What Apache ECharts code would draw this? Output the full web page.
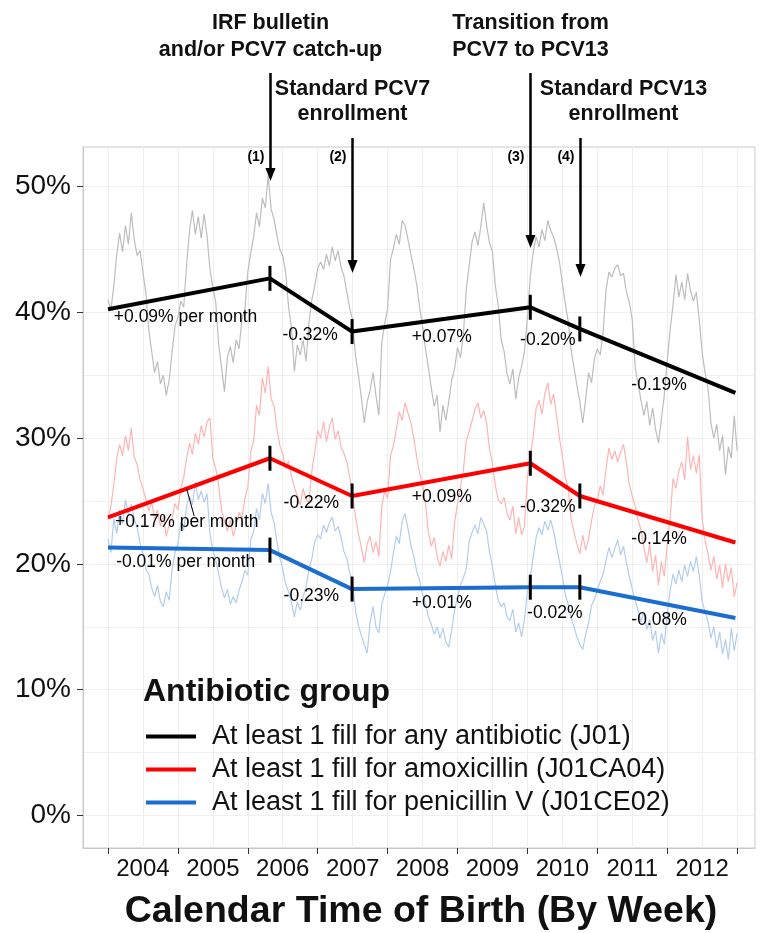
<!DOCTYPE html>
<html><head><meta charset="utf-8">
<script src="https://cdn.jsdelivr.net/npm/echarts@6/dist/echarts.min.js"></script>
<style>html,body{margin:0;padding:0;background:#fff}#c{width:760px;height:933px}</style>
</head><body><div id="c"></div>
<script>
// ---------- data ----------
const yearLabels = ['2004','2005','2006','2007','2008','2009','2010','2011','2012'];
const yearStartMonths = [0,12,24,36,48,60,72,84,96,108];
const yearMidMonths = [6,18,30,42,54,66,78,90,102];
const halfMonthGrid = [0,6,12,18,24,30,36,42,48,54,60,66,72,78,84,90,96,102,108];
const yTickValues = [0,10,20,30,40,50];
const yGridValues = [0,5,10,15,20,25,30,35,40,45,50];
const sampleStep = 0.5; // months between samples of the weekly series

// weekly share (%), read at half-month resolution, Jan 2004 -> Dec 2012
const anyAntibiotic = [41.0,40.2,42.1,44.6,46.3,44.8,46.9,45.4,47.9,45.8,
44.5,44.9,43.2,41.5,38.6,36.9,35.2,36.1,34.3,35.0,
33.4,34.6,36.8,38.9,39.6,40.9,40.4,43.8,46.5,48.1,
46.2,47.6,45.9,47.8,46.1,43.4,42.0,40.8,37.4,35.6,
33.7,36.4,37.3,36.0,37.8,37.1,39.5,40.2,43.2,44.7,
46.0,47.9,46.8,49.1,48.3,50.9,48.2,47.4,46.1,45.0,
44.5,43.2,40.4,38.8,35.3,37.4,36.6,37.8,36.1,39.2,
41.0,42.1,43.5,44.0,43.4,44.6,43.7,45.2,44.1,44.9,
43.6,42.9,41.6,40.3,39.4,36.5,35.0,33.2,31.2,32.9,
33.8,35.2,33.4,31.8,37.6,39.1,40.3,44.2,45.1,46.2,
45.4,47.3,46.9,45.8,44.6,43.5,42.2,40.4,38.9,37.1,
35.6,34.0,32.5,33.4,30.5,32.6,31.4,32.9,34.6,35.5,
37.2,36.4,38.2,41.8,43.7,45.6,46.4,45.3,46.8,48.7,
46.9,45.5,44.8,42.1,40.5,37.8,36.9,35.1,34.3,35.5,
33.1,34.8,35.7,36.9,39.6,42.9,44.8,46.0,45.2,46.6,
45.7,47.3,46.5,46.0,45.1,44.0,42.3,40.7,39.3,37.0,
35.6,34.2,32.9,31.2,33.1,35.2,34.4,36.3,37.1,36.6,
38.4,41.8,43.2,42.8,43.5,43.8,42.9,43.1,41.6,40.8,
39.4,35.6,34.3,33.0,31.8,32.9,31.0,32.4,30.7,29.6,
31.5,33.4,36.1,38.6,40.6,43.0,41.2,42.4,41.0,43.1,
41.7,40.9,41.6,39.4,36.8,35.2,34.0,31.2,30.0,31.1,
29.0,30.2,27.1,29.3,28.4,31.8,29.0];

const amoxicillin = [23.5,24.6,26.3,28.4,29.5,28.6,30.2,29.0,30.8,28.5,
27.9,26.7,26.0,25.1,24.2,24.9,23.6,24.3,23.0,23.8,
22.2,23.1,23.6,24.8,24.3,26.0,26.9,28.4,29.6,28.7,
30.4,29.5,31.0,30.1,31.3,31.6,28.4,27.6,26.2,24.3,
23.4,22.6,23.5,22.2,23.0,24.1,23.6,25.2,26.1,28.9,
29.8,32.6,31.8,34.8,33.6,35.7,33.1,32.6,30.8,29.4,
28.7,27.6,28.2,27.0,26.1,25.4,24.7,26.0,25.1,24.9,
27.4,28.9,30.6,30.0,31.3,29.7,30.9,31.6,29.9,30.6,
29.3,28.8,28.1,26.9,25.5,23.7,22.4,21.3,20.1,21.6,
22.2,20.9,21.8,20.6,24.6,25.8,25.2,28.6,29.4,30.7,
32.1,31.4,32.8,32.0,31.2,30.0,28.5,27.2,26.3,24.9,
22.5,21.4,22.1,20.6,19.8,21.0,20.2,21.5,20.4,23.3,
24.8,26.1,27.4,29.8,30.5,31.4,32.3,32.8,31.6,32.2,
31.2,29.1,28.0,26.2,25.1,24.8,25.3,24.0,23.5,24.6,
22.4,23.7,22.3,23.0,26.9,28.6,30.1,32.4,33.0,31.9,
33.6,34.4,32.7,33.5,31.8,30.0,28.6,26.9,26.1,23.6,
22.5,21.6,20.8,22.3,21.1,22.0,23.4,24.6,25.0,26.2,
25.5,27.6,29.2,28.3,29.0,28.1,28.9,29.5,28.0,26.3,
25.4,24.6,23.5,22.7,21.3,20.1,21.6,19.4,20.7,18.3,
20.2,19.0,21.5,23.6,26.8,26.0,27.4,28.1,26.7,30.1,
27.5,28.6,27.2,28.7,23.6,21.9,20.8,19.5,20.6,18.8,
19.9,18.1,20.0,18.6,19.7,17.4,18.5];

const penicillinV = [22.0,20.9,23.6,22.4,24.3,23.2,25.1,23.9,24.8,23.6,
22.9,21.7,20.8,19.6,19.2,18.1,17.4,18.3,17.0,16.6,
17.8,17.1,19.5,20.9,21.6,23.3,22.7,24.6,25.4,24.7,
26.5,25.1,25.8,24.9,25.6,22.4,21.1,20.3,19.2,18.1,
17.3,18.0,16.8,17.4,16.9,17.9,18.6,19.5,19.1,21.9,
22.6,24.4,23.5,25.6,24.8,26.4,24.1,23.3,21.8,20.5,
19.6,18.4,17.8,16.9,15.8,17.0,16.3,17.4,18.2,19.6,
20.4,21.8,22.3,22.0,23.1,22.5,23.3,23.7,22.6,23.0,
22.1,21.0,20.4,19.3,18.5,16.2,15.1,14.3,13.6,12.9,
15.4,16.6,15.0,14.5,16.8,17.6,18.3,19.4,20.9,22.2,
21.6,23.4,24.0,22.8,21.5,20.6,19.4,18.7,17.6,16.9,
15.8,15.2,14.4,15.0,14.1,14.9,13.8,13.4,14.7,16.3,
17.4,18.3,18.9,19.6,21.8,22.5,23.1,22.4,23.7,23.2,
22.6,20.9,19.8,18.3,17.1,16.6,16.9,15.8,15.5,16.4,
14.6,15.3,14.2,15.6,17.8,19.0,20.6,22.1,22.9,22.3,
23.4,22.7,23.5,22.6,21.4,20.2,19.0,17.6,16.8,15.7,
15.0,14.2,13.6,13.2,14.4,15.3,16.7,17.2,17.9,18.6,
19.2,20.3,21.3,20.5,21.2,21.9,20.7,21.4,20.1,19.0,
18.0,17.1,16.3,15.4,16.2,14.8,15.6,13.9,14.7,12.9,
14.5,13.6,16.0,17.9,19.2,18.4,19.5,18.6,19.9,19.0,
20.2,19.4,20.6,19.1,17.0,16.2,15.4,14.1,15.0,13.3,
14.6,12.8,14.0,12.4,14.9,13.1,14.5];

// segmented regression: breakpoints (months since Jan 2004) and fitted values (%)
const breakMonths = [0, 27.8, 41.9, 72.5, 81.0, 107.7];
const trendAny  = [40.25, 42.7, 38.47, 40.4, 38.68, 33.6];
const trendAmox = [23.7, 28.4, 25.4, 28.0, 25.4, 21.7];
const trendPen  = [21.3, 21.1, 18.0, 18.15, 18.15, 15.7];

const seriesNames = ['At least 1 fill for any antibiotic (J01)',
                     'At least 1 fill for amoxicillin (J01CA04)',
                     'At least 1 fill for penicillin V (J01CE02)'];

const slopeAny  = ['+0.09% per month','-0.32%','+0.07%','-0.20%','-0.19%'];
const slopeAmox = ['+0.17% per month','-0.22%','+0.09%','-0.32%','-0.14%'];
const slopePen  = ['-0.01% per month','-0.23%','+0.01%','-0.02%','-0.08%'];

const eventNums = ['(1)','(2)','(3)','(4)'];
const eventTexts = [['IRF bulletin','and/or PCV7 catch-up'],
                    ['Standard PCV7','enrollment'],
                    ['Transition from','PCV7 to PCV13'],
                    ['Standard PCV13','enrollment']];

// ---------- layout (annotation placement, not data) ----------
const FONT = '"Liberation Sans", Arial, Helvetica, sans-serif';
const slopePosAny  = [[1.0,39.6],[34.7,38.2],[57.3,38.0],[75.5,37.8],[94.6,34.2]];
const slopePosAmox = [[1.2,23.3],[34.9,24.85],[57.3,25.3],[75.5,24.5],[94.6,22.0]];
const slopePosPen  = [[1.4,20.1],[34.9,17.4],[57.3,16.9],[76.7,16.1],[94.6,15.55]];
const leader = [[13.5,25.98],[14.8,23.8]];

const toXY = arr => arr.map((v,i)=>[i*sampleStep, v]);
const trendXY = arr => arr.map((v,i)=>[breakMonths[i], v]);
const innerBreaks = arr => arr.slice(1,5).map((v,i)=>[breakMonths[i+1], v]);

function labelItems(texts, pos){
  return texts.map((t,i)=>({value:[pos[i][0],pos[i][1]], name:t,
    label:{align: i===0 ? 'left' : 'center'}}));
}

const chart = echarts.init(document.getElementById('c'), null, {renderer:'canvas'});

const option = {
  animation:false,
  backgroundColor:'#fff',
  textStyle:{fontFamily:FONT},
  grid:{left:83, right:5, top:147, bottom:85, show:true, borderColor:'#c9c9c9', borderWidth:1, containLabel:false},
  xAxis:[{
    type:'value', min:-4.29, max:111.07, position:'bottom',
    axisLine:{show:true, onZero:false, lineStyle:{color:'#c9c9c9', width:1}},
    axisTick:{show:true, customValues:yearStartMonths, length:6, lineStyle:{color:'#333', width:1}},
    axisLabel:{show:true, customValues:yearMidMonths, fontSize:24, color:'#111', margin:9, fontFamily:FONT,
      formatter:v=>yearLabels[yearMidMonths.indexOf(v)]},
    splitLine:{show:false}
  },{
    type:'value', min:-4.29, max:111.07, position:'bottom',
    axisLine:{show:false}, axisLabel:{show:false},
    axisTick:{show:false, customValues:halfMonthGrid},
    splitLine:{show:true, lineStyle:{color:'#efefef', width:1}}
  }],
  yAxis:[{
    type:'value', min:-2.58, max:53.14,
    axisLine:{show:true, onZero:false, lineStyle:{color:'#c9c9c9', width:1}},
    axisTick:{show:true, customValues:yTickValues, length:6, lineStyle:{color:'#333', width:1}},
    axisLabel:{show:true, customValues:yTickValues, fontSize:28, color:'#111', margin:12, fontFamily:FONT,
      formatter:v=>v+'%'},
    splitLine:{show:false}
  },{
    type:'value', min:-2.58, max:53.14,
    axisLine:{show:false}, axisLabel:{show:false},
    axisTick:{show:false, customValues:yGridValues},
    splitLine:{show:true, lineStyle:{color:'#efefef', width:1}}
  }],
  legend:{
    orient:'vertical', left:141, top:718, icon:'rect', itemWidth:50, itemHeight:4, itemGap:6,
    data:seriesNames, selectedMode:false,
    textStyle:{fontSize:27, color:'#111', fontFamily:FONT, padding:[0,0,0,11]}
  },
  series:[
    {type:'line', name:'weekly any', data:toXY(anyAntibiotic), showSymbol:false, symbol:'none', silent:true,
      lineStyle:{color:'#bdbdbd', width:1.2}, z:1},
    {type:'line', name:'weekly amox', data:toXY(amoxicillin), showSymbol:false, symbol:'none', silent:true,
      lineStyle:{color:'#ffb4b4', width:1.2}, z:1},
    {type:'line', name:'weekly pen', data:toXY(penicillinV), showSymbol:false, symbol:'none', silent:true,
      lineStyle:{color:'#b3cdee', width:1.2}, z:1},
    {type:'line', name:seriesNames[0], data:trendXY(trendAny), symbol:'none', color:'#000',
      lineStyle:{color:'#000', width:4}, z:3},
    {type:'line', name:seriesNames[1], data:trendXY(trendAmox), symbol:'none', color:'#ff0000',
      lineStyle:{color:'#ff0000', width:4}, z:3},
    {type:'line', name:seriesNames[2], data:trendXY(trendPen), symbol:'none', color:'#1b6ecf',
      lineStyle:{color:'#1b6ecf', width:4}, z:3},
    {type:'scatter', name:'breaks', silent:true, symbol:'rect', symbolSize:[3,25], itemStyle:{color:'#000', opacity:1}, z:4,
      data:[].concat(innerBreaks(trendAny), innerBreaks(trendAmox), innerBreaks(trendPen))},
    {type:'line', name:'leader', data:leader, symbol:'none', silent:true, lineStyle:{color:'#000', width:1}, z:4},
    {type:'scatter', name:'slopes', silent:true, symbolSize:0, z:5, itemStyle:{opacity:1, color:'#000'},
      data:[].concat(labelItems(slopeAny,slopePosAny), labelItems(slopeAmox,slopePosAmox), labelItems(slopePen,slopePosPen)),
      label:{show:true, position:'inside', formatter:p=>p.name, fontSize:17.5, color:'#000', opacity:1, fontFamily:FONT, verticalAlign:'middle'}}
  ]
};
chart.setOption(option);

// ---------- event arrows & titles ----------
const arrowStart = [73,138,73,138];
const arrowTip = [181,273,248,277];
const textRowsY = [[23,50],[89,114],[23,50],[89,114]];
const textShift = [0,0,0,43];
const g = [];
for (let i=0;i<4;i++){
  const x = Math.round(chart.convertToPixel({xAxisIndex:0}, breakMonths[i+1])) + 0.5;
  g.push({type:'line', shape:{x1:x,y1:arrowStart[i],x2:x,y2:arrowTip[i]-10}, style:{stroke:'#000', lineWidth:2.5}, z:20});
  g.push({type:'polygon', shape:{points:[[x-5,arrowTip[i]-13],[x+5,arrowTip[i]-13],[x,arrowTip[i]]]}, style:{fill:'#000'}, z:20});
  g.push({type:'text', x:x-6, y:157, style:{text:eventNums[i], font:'bold 14px '+FONT, align:'right', verticalAlign:'middle', fill:'#000'}, z:20});
  eventTexts[i].forEach((t,j)=>{
    g.push({type:'text', x:x+textShift[i], y:textRowsY[i][j], style:{text:t, font:'bold 21.5px '+FONT, align:'center', verticalAlign:'middle', fill:'#111'}, z:20});
  });
}
g.push({type:'text', x:143, y:692, style:{text:'Antibiotic group', font:'bold 32px '+FONT, align:'left', verticalAlign:'middle', fill:'#111'}, z:20});
g.push({type:'text', x:421, y:912, style:{text:'Calendar Time of Birth (By Week)', font:'bold 37.5px '+FONT, align:'center', verticalAlign:'middle', fill:'#111'}, z:20});
chart.setOption({graphic:g});
</script>
</body></html>
